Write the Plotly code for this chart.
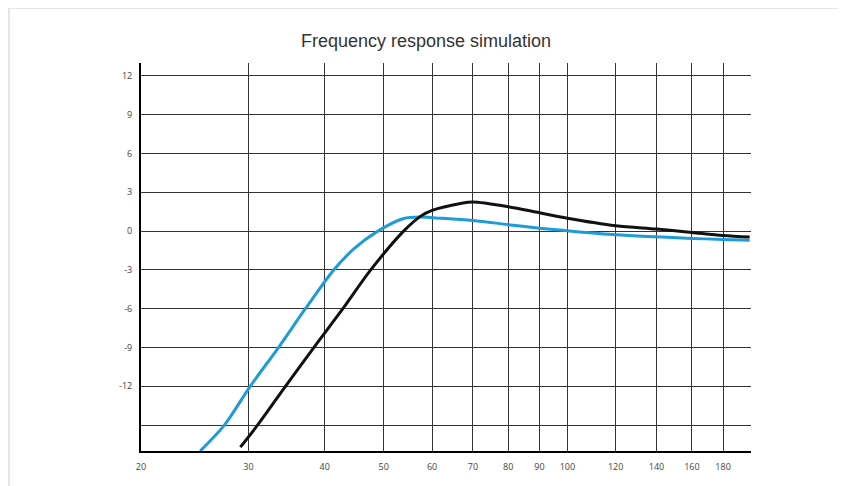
import math
import plotly.graph_objects as go

# ---- data ----
blue_freq = [25.0, 27.4, 30.2, 33.6, 37.2, 41.4, 44.7, 48.9, 53.9, 57.5, 60, 70, 80, 90, 100, 120, 140, 160, 180, 199]
blue_db = [-17.0, -15.0, -12.0, -9.0, -6.0, -3.0, -1.36, 0.0, 0.98, 1.1, 1.04, 0.83, 0.5, 0.23, 0.03, -0.28, -0.44, -0.56, -0.64, -0.7]

black_freq = [29.1, 31.05, 34.5, 38.4, 42.85, 47.6, 53.9, 57.5, 60, 66.8, 70, 80, 90, 100, 120, 140, 160, 180, 199]
black_db = [-16.7, -15.0, -12.0, -9.0, -6.0, -3.0, 0.0, 1.16, 1.6, 2.14, 2.25, 1.89, 1.42, 1.0, 0.42, 0.16, -0.1, -0.33, -0.46]

x_ticks = [20, 30, 40, 50, 60, 70, 80, 90, 100, 120, 140, 160, 180]
y_ticks = [-15, -12, -9, -6, -3, 0, 3, 6, 9, 12]
y_tick_text = ["", "-12", "-9", "-6", "-3", "0", "3", "6", "9", "12"]

title_text = "Frequency response simulation"

fig = go.Figure()
fig.add_trace(go.Scatter(x=blue_freq, y=blue_db, mode="lines",
                         line=dict(color="#1f9bd8", width=3, shape="spline", smoothing=0.9),
                         showlegend=False, hoverinfo="skip"))
fig.add_trace(go.Scatter(x=black_freq, y=black_db, mode="lines",
                         line=dict(color="#111111", width=3, shape="spline", smoothing=0.9),
                         showlegend=False, hoverinfo="skip"))

grid_col = "#333333"
tick_font = dict(family="Open Sans, sans-serif", size=9, color="#444444")

# page body has an 8px offset; figure sized to fit the window
W, H = 838, 478
L, T, PW, PH = 133, 55, 610, 388
R, B = W - L - PW, H - T - PH

fig.update_xaxes(type="log", range=[math.log10(20), math.log10(200)],
                 tickvals=x_ticks, ticktext=[str(v) for v in x_ticks],
                 showgrid=True, gridcolor=grid_col, gridwidth=1.2,
                 showline=True, linecolor="#000000", linewidth=2,
                 ticks="", tickfont=tick_font, ticklabelstandoff=6,
                 zeroline=False, fixedrange=True, automargin=False)
fig.update_yaxes(range=[-17, 13], tickvals=y_ticks, ticktext=y_tick_text,
                 showgrid=True, gridcolor=grid_col, gridwidth=1.2,
                 showline=True, linecolor="#000000", linewidth=2,
                 ticks="", tickfont=tick_font, ticklabelstandoff=5,
                 zeroline=False, fixedrange=True, automargin=False)

fig.update_layout(
    width=W, height=H,
    margin=dict(l=L, r=R, t=T, b=B),
    paper_bgcolor="#ffffff", plot_bgcolor="#ffffff",
    title=dict(text=title_text, x=418 / W, xref="container", xanchor="center",
               y=1 - 33 / H, yref="container", yanchor="middle",
               font=dict(family="Liberation Sans, Arial, sans-serif", size=18, color="#333333")),
    shapes=[dict(type="rect", xref="paper", yref="paper",
                 x0=(1 - L) / PW, x1=(832 - L) / PW,
                 y0=-0.2, y1=(T + PH - 0) / PH,
                 line=dict(color="#dddddd", width=1.5), layer="below")],
)

fig.write_html("out.html")
